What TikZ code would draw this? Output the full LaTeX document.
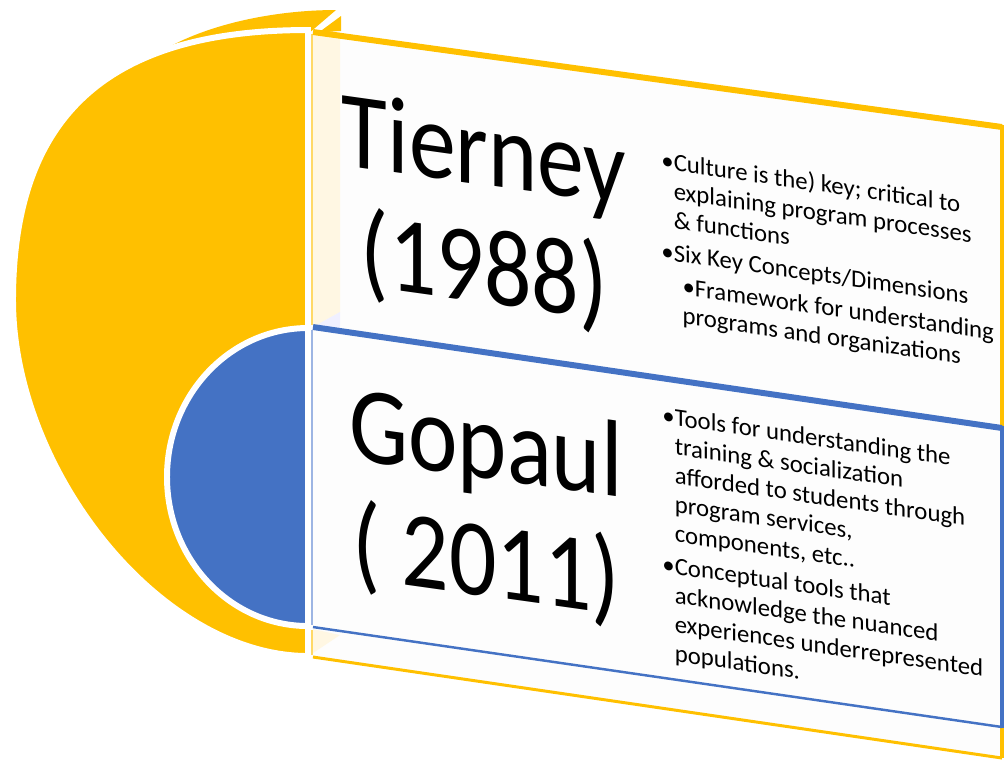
\documentclass[tikz,border=0pt]{standalone}
\usepackage[svgnames]{xcolor}
\usepackage{fontspec}
\setmainfont{Carlito}
\usepackage{tikz}

\definecolor{accentgold}{HTML}{FFC000}
\definecolor{accentblue}{HTML}{4472C4}
\definecolor{goldside}{HTML}{FFF7E3}
\definecolor{goldthin}{HTML}{FFD966}
\definecolor{bluethin}{HTML}{9DB5E3}
\definecolor{facefill}{HTML}{FDFDFD}

\tikzset{
    yeartitle/.style={align=center, inner sep=0pt,
        font=\fontsize{31}{33.5}\selectfont, yslant=-0.14, xscale=0.86},
    bulletlist/.style={align=left, anchor=north west, inner sep=0pt,
        font=\fontsize{7.05}{8.25}\selectfont, yslant=-0.145},
    gap/.style={draw=white, line width=1.7pt},
}

\begin{document}
\begin{tikzpicture}[x=0.1mm, y=-0.1mm, thick]
    \useasboundingbox (0,0) rectangle (1005,760);

    % half discs on the left
    \fill[accentgold] (160,52) .. controls (210,22) and (280,10) .. (336,10)
        -- (308,34) -- cycle;
    \fill[accentgold] (318,33) -- (341,16) -- (341,31) -- cycle;
    \filldraw[accentgold, gap] (308,30) .. controls (105,30) and (13,118) .. (13,300)
        .. controls (13,470) and (160,656) .. (308,656) -- cycle;
    \filldraw[accentblue, gap] (308,328)
        arc[start angle=-90, end angle=-270, x radius=141, y radius=149] -- cycle;

    % upper panel
    \begin{scope}
        \fill[facefill] (313,32) -- (1002,127) -- (1002,757) -- (313,657) -- cycle;
        \fill[goldside] (313,33) -- (340,31) -- (340,312) -- (313,327) -- cycle;
        \fill[goldside] (313,629) -- (340,635) -- (313,653) -- cycle;
        \draw[goldthin, line width=0.5pt] (312,34) -- (312,325);
        \draw[goldthin, line width=0.5pt] (312,630) -- (312,655);
        \draw[accentgold, line width=1.7pt] (313,32) -- (1002,127);
        \draw[accentgold, line width=1.4pt] (1002,125) -- (1002,758);
        \draw[accentgold, line width=0.85pt] (313,657) -- (1002,758);
    \end{scope}

    % lower panel
    \begin{scope}
        \fill[facefill] (313,327) -- (1002,428) -- (1002,727) -- (313,627) -- cycle;
        \fill[blue!6] (313,327) -- (340,312) -- (340,330) -- cycle;
        \draw[bluethin, line width=0.5pt] (312,330) -- (312,625);
        \draw[accentblue, line width=1.7pt] (313,327) -- (1002,428);
        \draw[accentblue, line width=1.4pt] (1002,426) -- (1002,728);
        \draw[accentblue, line width=0.7pt] (313,627) -- (1002,727);
    \end{scope}

    \node[yeartitle] (Tierney) at (484,214) {Tierney\\(1988)};
    \node[yeartitle] (Gopaul) at (486,507) {Gopaul\\( 2011)};

    \node[bulletlist] (TierneyPoints) at (660,149) {%
        •Culture is the) key; critical to\\
        \phantom{•}explaining program processes\\
        \phantom{•}\& functions\\[1pt]
        •Six Key Concepts/Dimensions\\[1pt]
        \hspace*{6pt}•Framework for understanding\\
        \hspace*{6pt}programs and organizations};

    \node[bulletlist] (GopaulPoints) at (661,405) {%
        •Tools for understanding the\\
        \phantom{•}training \& socialization\\
        \phantom{•}afforded to students through\\
        \phantom{•}program services,\\
        \phantom{•}components, etc..\\[1pt]
        •Conceptual tools that\\
        \phantom{•}acknowledge the nuanced\\
        \phantom{•}experiences underrepresented\\
        \phantom{•}populations.};

\end{tikzpicture}
\end{document}
